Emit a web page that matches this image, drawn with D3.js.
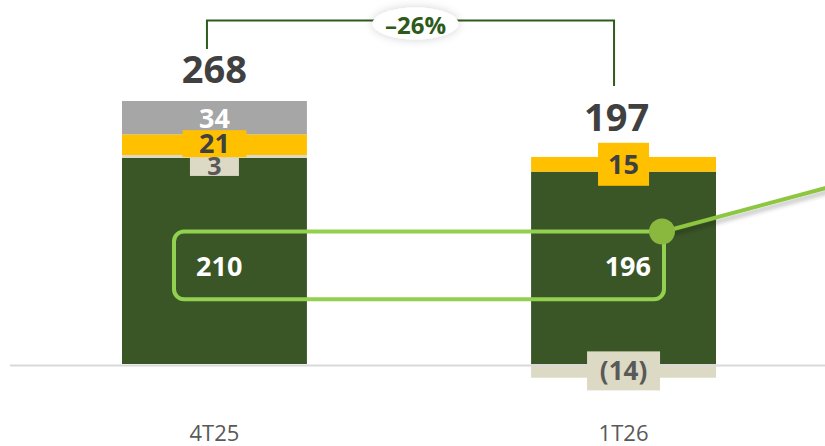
<!DOCTYPE html>
<html><head><meta charset="utf-8">
<script src="https://cdn.jsdelivr.net/npm/d3@7"></script>
<style>
html,body{margin:0;padding:0;background:#fff;}
svg{display:block;font-family:"Open Sans","DejaVu Sans",sans-serif;}
</style></head>
<body>
<svg id="c" width="825" height="446"></svg>
<script>
// ---- data ----
const categories = ["4T25", "1T26"];
const coreValues = [210, 196];
const otherValues = [3, -14];
const yellowValues = [21, 15];
const grayValues = [34, 0];
const totals = [268, 197];
const changeLabel = "–26%";
const segmentLabels = {
  core: ["210", "196"],
  other: ["3", "(14)"],
  yellow: ["21", "15"],
  gray: ["34", ""]
};

const svg = d3.select("#c");
const W = 825, H = 446;

const x = d3.scaleBand().domain(categories).range([122, 716]).paddingInner(0.548).paddingOuter(0);
const y = d3.scaleLinear().domain([0, 268]).range([364, 101]);
const bw = x.bandwidth();

const keys = ["core", "other", "yellow", "gray"];
const colors = {core: "#3a5526", other: "#dcd9c4", yellow: "#ffc000", gray: "#a6a6a6"};
const rows = categories.map((c, i) => ({cat: c, core: coreValues[i], other: otherValues[i], yellow: yellowValues[i], gray: grayValues[i]}));
const stack = d3.stack().keys(keys).offset(d3.stackOffsetDiverging);
const series = stack(rows);

// defs
const defs = svg.append("defs");
const f1 = defs.append("filter").attr("id", "glow").attr("x", "-50%").attr("y", "-80%").attr("width", "200%").attr("height", "260%");
f1.append("feGaussianBlur").attr("in", "SourceAlpha").attr("stdDeviation", 5).attr("result", "b");
f1.append("feFlood").attr("flood-color", "#000").attr("flood-opacity", 0.18);
f1.append("feComposite").attr("in2", "b").attr("operator", "in").attr("result", "s");
const m1 = f1.append("feMerge"); m1.append("feMergeNode").attr("in", "s"); m1.append("feMergeNode").attr("in", "SourceGraphic");
const f2 = defs.append("filter").attr("id", "lshadow").attr("x", "-20%").attr("y", "-50%").attr("width", "140%").attr("height", "200%");
f2.append("feGaussianBlur").attr("in", "SourceAlpha").attr("stdDeviation", 2).attr("result", "b");
f2.append("feOffset").attr("in", "b").attr("dx", 1).attr("dy", 4).attr("result", "o");
f2.append("feFlood").attr("flood-color", "#000").attr("flood-opacity", 0.25);
f2.append("feComposite").attr("in2", "o").attr("operator", "in").attr("result", "s");
const m2 = f2.append("feMerge"); m2.append("feMergeNode").attr("in", "s"); m2.append("feMergeNode").attr("in", "SourceGraphic");

// bars
svg.append("g").selectAll("g").data(series).join("g")
  .attr("fill", d => colors[d.key])
  .selectAll("rect").data(d => d).join("rect")
  .attr("x", d => x(d.data.cat))
  .attr("width", bw)
  .attr("y", d => y(Math.max(d[0], d[1])))
  .attr("height", d => Math.abs(y(d[0]) - y(d[1])));

// baseline
svg.append("line").attr("x1", 10).attr("x2", W).attr("y1", y(0) + 1.5).attr("y2", y(0) + 1.5)
  .attr("stroke", "#d9d9d9").attr("stroke-width", 2);

// segment label boxes + labels
function seg(key, i) { return series.find(d => d.key === key)[i]; }
const cx = i => x(categories[i]) + bw / 2;
const boxStyle = [
  {key: "other", i: 0, w: 49, h: 19, dy: 10, size: 25, color: "#595959"},
  {key: "yellow", i: 0, w: 64, h: 27, dy: -1, size: 27, color: "#404040"},
  {key: "yellow", i: 1, w: 51, h: 43, dy: 0, size: 27, color: "#404040"},
  {key: "other", i: 1, w: 73, h: 39, dy: 0, size: 26, color: "#595959"}
];
const lg = svg.append("g");
boxStyle.forEach(b => {
  const s = seg(b.key, b.i);
  const my = (y(s[0]) + y(s[1])) / 2 + b.dy;
  lg.append("rect").attr("x", cx(b.i) - b.w / 2).attr("y", my - b.h / 2).attr("width", b.w).attr("height", b.h)
    .attr("fill", colors[b.key]);
  b.my = my;
});
boxStyle.forEach(b => {
  lg.append("text").attr("x", cx(b.i)).attr("y", b.my).attr("dy", "0.36em").attr("text-anchor", "middle")
    .attr("font-size", b.size).attr("font-weight", 700).attr("fill", b.color)
    .text(segmentLabels[b.key][b.i]);
});
// gray label
{
  const s = seg("gray", 0);
  lg.append("text").attr("x", cx(0)).attr("y", (y(s[0]) + y(s[1])) / 2 + 1).attr("dy", "0.36em")
    .attr("text-anchor", "middle").attr("font-size", 27).attr("font-weight", 700).attr("fill", "#fff")
    .text(segmentLabels.gray[0]);
}

// highlight rounded rect
const rx0 = x(categories[0]) + 52, rx1 = x(categories[1]) + bw - 52;
const ry0 = y(135), ry1 = y(66);
svg.append("rect").attr("x", rx0).attr("y", ry0).attr("width", rx1 - rx0).attr("height", ry1 - ry0)
  .attr("rx", 10).attr("fill", "none").attr("stroke", "#92d050").attr("stroke-width", 4);
svg.append("text").attr("x", rx0 + 22).attr("y", (ry0 + ry1) / 2 + 1).attr("dy", "0.36em")
  .attr("font-size", 27).attr("font-weight", 700).attr("fill", "#fff").text(segmentLabels.core[0]);
svg.append("text").attr("x", rx1 - 13).attr("y", (ry0 + ry1) / 2 + 1).attr("dy", "0.36em").attr("text-anchor", "end")
  .attr("font-size", 27).attr("font-weight", 700).attr("fill", "#fff").text(segmentLabels.core[1]);

// connector line to the right
svg.append("line").attr("x1", rx1).attr("y1", ry0).attr("x2", W + 10).attr("y2", ry0 - 46)
  .attr("stroke", "#8dc63f").attr("stroke-width", 4).attr("filter", "url(#lshadow)");
svg.append("circle").attr("cx", rx1 - 2).attr("cy", ry0).attr("r", 13).attr("fill", "#8ab83f");

// totals (placed above the stack top / label box)
const totalOffsets = [18, 26];
const totalShift = [0, -7];
totals.forEach((t, i) => {
  const top = d3.min(series, s => y(s[i][1]));
  svg.append("text").attr("x", cx(i) + totalShift[i]).attr("y", top - totalOffsets[i])
    .attr("text-anchor", "middle").attr("font-size", 38).attr("font-weight", 700).attr("fill", "#404040")
    .text(t);
});

// bracket
const bx0 = cx(0) - 7.5, bx1 = cx(1) - 9.5;
const by = 20.5;
const bracket = d3.path();
bracket.moveTo(bx0, 49); bracket.lineTo(bx0, by); bracket.lineTo(bx1, by); bracket.lineTo(bx1, 86);
svg.append("path").attr("d", bracket.toString()).attr("fill", "none").attr("stroke", "#2f5b1e").attr("stroke-width", 2);
const pcx = (bx0 + bx1) / 2 + 5;
svg.append("ellipse").attr("cx", pcx).attr("cy", 23.5).attr("rx", 43).attr("ry", 16).attr("fill", "#fff").attr("filter", "url(#glow)");
svg.append("text").attr("x", pcx).attr("y", 25).attr("dy", "0.36em").attr("text-anchor", "middle")
  .attr("font-size", 24).attr("font-weight", 700).attr("fill", "#2d5a1b").text(changeLabel);

// x axis labels
const xa = svg.append("g").attr("transform", `translate(0,441)`)
  .call(d3.axisBottom(x).tickSize(0).tickPadding(0));
xa.select(".domain").remove();
xa.selectAll("text").attr("dy", 0).attr("font-size", 22).attr("fill", "#595959").attr("font-family", "'Open Sans',sans-serif");
</script>
</body></html>
